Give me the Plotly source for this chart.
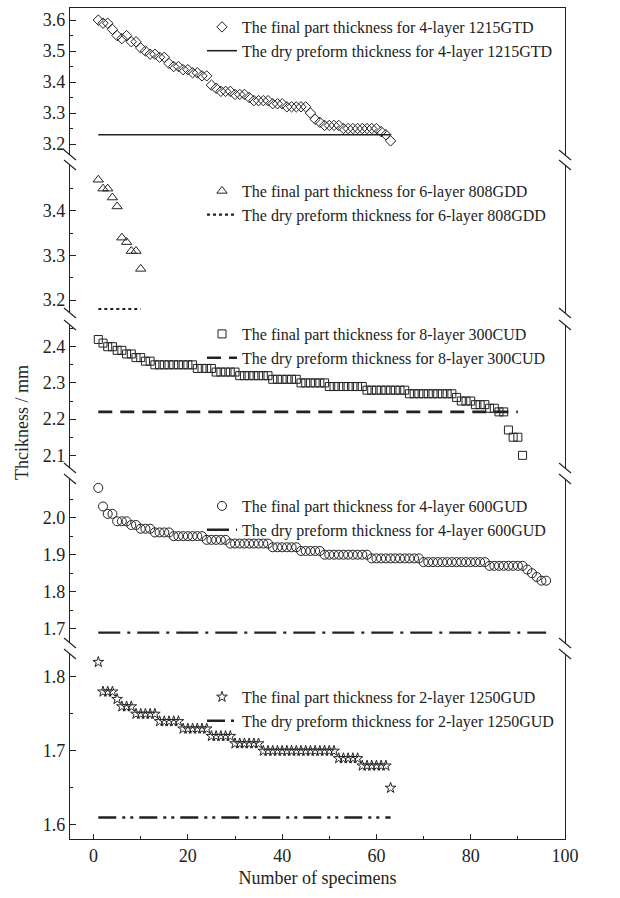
import plotly.graph_objects as go
from plotly.subplots import make_subplots

# ---------------- data ----------------
labels_final = [
    "The final part thickness for 4-layer 1215GTD",
    "The final part thickness for 6-layer 808GDD",
    "The final part thickness for 8-layer 300CUD",
    "The final part thickness for 4-layer 600GUD",
    "The final part thickness for 2-layer 1250GUD",
]
labels_dry = [
    "The dry preform thickness for 4-layer 1215GTD",
    "The dry preform thickness for 6-layer 808GDD",
    "The dry preform thickness for 8-layer 300CUD",
    "The dry preform thickness for 4-layer 600GUD",
    "The dry preform thickness for 2-layer 1250GUD",
]

gtd_1215 = [3.60, 3.59, 3.59, 3.57, 3.55, 3.54, 3.55, 3.53, 3.53, 3.51,
            3.50, 3.49, 3.49, 3.48, 3.48, 3.46, 3.45, 3.45, 3.44, 3.44,
            3.43, 3.43, 3.42, 3.42, 3.39, 3.38, 3.37, 3.37, 3.37, 3.36,
            3.36, 3.36, 3.35, 3.34, 3.34, 3.34, 3.34, 3.33, 3.33, 3.33,
            3.32, 3.32, 3.32, 3.32, 3.32, 3.30, 3.28, 3.27, 3.26, 3.26,
            3.26, 3.26, 3.25, 3.25, 3.25, 3.25, 3.25, 3.25, 3.25, 3.25,
            3.24, 3.23, 3.21]

gdd_808 = [3.47, 3.45, 3.45, 3.43, 3.41, 3.34, 3.33, 3.31, 3.31, 3.27]

cud_300 = [2.42, 2.41, 2.40, 2.40, 2.39, 2.39, 2.38, 2.38, 2.37, 2.37,
           2.36, 2.36, 2.35, 2.35, 2.35, 2.35, 2.35, 2.35, 2.35, 2.35,
           2.35, 2.34, 2.34, 2.34, 2.34, 2.33, 2.33, 2.33, 2.33, 2.33,
           2.32, 2.32, 2.32, 2.32, 2.32, 2.32, 2.32, 2.31, 2.31, 2.31,
           2.31, 2.31, 2.31, 2.30, 2.30, 2.30, 2.30, 2.30, 2.30, 2.29,
           2.29, 2.29, 2.29, 2.29, 2.29, 2.29, 2.29, 2.28, 2.28, 2.28,
           2.28, 2.28, 2.28, 2.28, 2.28, 2.28, 2.27, 2.27, 2.27, 2.27,
           2.27, 2.27, 2.27, 2.27, 2.27, 2.27, 2.26, 2.25, 2.25, 2.25,
           2.24, 2.24, 2.24, 2.23, 2.23, 2.22, 2.22, 2.17, 2.15, 2.15,
           2.10]

gud_600 = [2.08, 2.03, 2.01, 2.01, 1.99, 1.99, 1.99, 1.98, 1.98, 1.97,
           1.97, 1.97, 1.96, 1.96, 1.96, 1.96, 1.95, 1.95, 1.95, 1.95,
           1.95, 1.95, 1.95, 1.94, 1.94, 1.94, 1.94, 1.94, 1.93, 1.93,
           1.93, 1.93, 1.93, 1.93, 1.93, 1.93, 1.93, 1.92, 1.92, 1.92,
           1.92, 1.92, 1.92, 1.91, 1.91, 1.91, 1.91, 1.91, 1.90, 1.90,
           1.90, 1.90, 1.90, 1.90, 1.90, 1.90, 1.90, 1.90, 1.89, 1.89,
           1.89, 1.89, 1.89, 1.89, 1.89, 1.89, 1.89, 1.89, 1.89, 1.88,
           1.88, 1.88, 1.88, 1.88, 1.88, 1.88, 1.88, 1.88, 1.88, 1.88,
           1.88, 1.88, 1.88, 1.87, 1.87, 1.87, 1.87, 1.87, 1.87, 1.87,
           1.87, 1.86, 1.85, 1.84, 1.83, 1.83]

gud_1250 = [1.82, 1.78, 1.78, 1.78, 1.77, 1.76, 1.76, 1.76, 1.75, 1.75,
            1.75, 1.75, 1.75, 1.74, 1.74, 1.74, 1.74, 1.74, 1.73, 1.73,
            1.73, 1.73, 1.73, 1.73, 1.72, 1.72, 1.72, 1.72, 1.72, 1.71,
            1.71, 1.71, 1.71, 1.71, 1.71, 1.70, 1.70, 1.70, 1.70, 1.70,
            1.70, 1.70, 1.70, 1.70, 1.70, 1.70, 1.70, 1.70, 1.70, 1.70,
            1.70, 1.69, 1.69, 1.69, 1.69, 1.69, 1.68, 1.68, 1.68, 1.68,
            1.68, 1.68, 1.65]

dry_values = [3.23, 3.18, 2.22, 1.69, 1.61]
dry_spans = [[1, 63], [1, 10], [1, 90], [1, 96], [1, 63]]

y_ticks = [
    [3.2, 3.3, 3.4, 3.5, 3.6],
    [3.2, 3.3, 3.4],
    [2.1, 2.2, 2.3, 2.4],
    [1.7, 1.8, 1.9, 2.0],
    [1.6, 1.7, 1.8],
]
y_minor = [
    [3.25, 3.35, 3.45, 3.55],
    [3.25, 3.35, 3.45],
    [2.15, 2.25, 2.35, 2.45],
    [1.75, 1.85, 1.95, 2.05],
    [1.65, 1.75],
]
y_ranges = [[3.1645, 3.639], [3.171, 3.503], [2.065, 2.460], [1.662, 2.104], [1.581, 1.831]]
x_ticks = [0, 20, 40, 60, 80, 100]
x_minor = [10, 30, 50, 70, 90]

# ---------------- styles ----------------
W, H = 620, 898
ML, MR, MT, MB = 70, 55, 8, 59
plot_h = H - MT - MB
# panel extents in pixels from top of page
panel_px = [(8, 155), (165, 313), (325, 468), (479, 643), (654, 839)]
legend_top_px = [10, 174, 317, 489, 680]

def py(px):
    return (H - MB - px) / plot_h

symbols = ["diamond-open", "triangle-up-open", "square-open", "circle-open", "star-open"]
msizes = [8, 9, 8, 9, 8]
dashes = ["solid", "dot", "14px,8px", "22px,7px,3px,7px", "18px,6px,3px,5px,3px,6px"]
lwidths = [1.6, 2.2, 2.6, 2.4, 2.6]
serif = "Liberation Serif"
ink = "#222222"

series = [gtd_1215, gdd_808, cud_300, gud_600, gud_1250]

fig = make_subplots(rows=5, cols=1, shared_xaxes=True, vertical_spacing=0.01)

for i, vals in enumerate(series):
    row = i + 1
    leg = "legend" if i == 0 else f"legend{i + 1}"
    xs = list(range(1, len(vals) + 1))
    fig.add_trace(go.Scatter(
        x=xs, y=vals, mode="markers", name=labels_final[i], legend=leg,
        marker=dict(symbol=symbols[i], size=msizes[i], color=ink,
                    line=dict(color=ink, width=1)),
    ), row=row, col=1)
    fig.add_trace(go.Scatter(
        x=dry_spans[i], y=[dry_values[i], dry_values[i]], mode="lines",
        name=labels_dry[i], legend=leg,
        line=dict(color=ink, width=lwidths[i], dash=dashes[i]),
    ), row=row, col=1)

layout = dict(
    width=W, height=H,
    margin=dict(l=ML, r=MR, t=MT, b=MB),
    paper_bgcolor="white", plot_bgcolor="white",
    font=dict(family=serif, size=16, color=ink),
    showlegend=True,
)

for i in range(5):
    k = "" if i == 0 else str(i + 1)
    top, bot = panel_px[i]
    layout[f"yaxis{k}"] = dict(
        domain=[py(bot), py(top)], range=y_ranges[i],
        tickvals=y_ticks[i], ticktext=[f"{v:.1f}" for v in y_ticks[i]],
        ticks="inside", ticklen=6, tickwidth=1, tickcolor=ink,
        minor=dict(tickvals=y_minor[i], ticks="inside", ticklen=3, tickcolor=ink),
        showline=True, linecolor=ink, linewidth=1.2, mirror=True,
        showgrid=False, zeroline=False,
        tickfont=dict(family=serif, size=18, color=ink),
    )
    xa = dict(range=[-5, 100], showgrid=False, zeroline=False)
    if i == 0:
        xa.update(side="top", showline=True, linecolor=ink, linewidth=1.2,
                  ticks="", showticklabels=False, mirror=False)
    elif i == 4:
        xa.update(showline=True, linecolor=ink, linewidth=1.2, mirror=False,
                  tickvals=x_ticks, ticks="inside", ticklen=5, tickcolor=ink,
                  minor=dict(tickvals=x_minor, ticks="inside", ticklen=3, tickcolor=ink),
                  showticklabels=True,
                  tickfont=dict(family=serif, size=18, color=ink),
                  title=dict(text="Number of specimens", font=dict(family=serif, size=18, color=ink),
                             standoff=6))
    else:
        xa.update(showline=False, ticks="", showticklabels=False)
    layout[f"xaxis{k}"] = xa

    leg_name = "legend" if i == 0 else f"legend{i + 1}"
    layout[leg_name] = dict(
        x=(202 - ML) / (W - ML - MR), xanchor="left",
        y=py(legend_top_px[i]), yanchor="top",
        bgcolor="rgba(0,0,0,0)", borderwidth=0,
        font=dict(family=serif, size=16, color=ink),
        tracegroupgap=0,
    )

fig.update_layout(**layout)

# y axis title
fig.add_annotation(
    text="Thcikness / mm", xref="paper", yref="paper",
    x=0.0, xshift=-48, y=py(423), textangle=-90, showarrow=False,
    font=dict(family=serif, size=18, color=ink), xanchor="center", yanchor="middle",
)

# axis break marks
shapes = []
for i in range(4):
    for edge in (panel_px[i][1], panel_px[i + 1][0]):
        for xa_ in (0, 1):
            shapes.append(dict(
                type="line", xref="paper", yref="paper",
                xsizemode="pixel", ysizemode="pixel",
                xanchor=xa_, yanchor=py(edge),
                x0=-6, x1=6, y0=5, y1=-5,
                line=dict(color=ink, width=1.1),
            ))
fig.update_layout(shapes=shapes)

fig.write_html("out.html")
